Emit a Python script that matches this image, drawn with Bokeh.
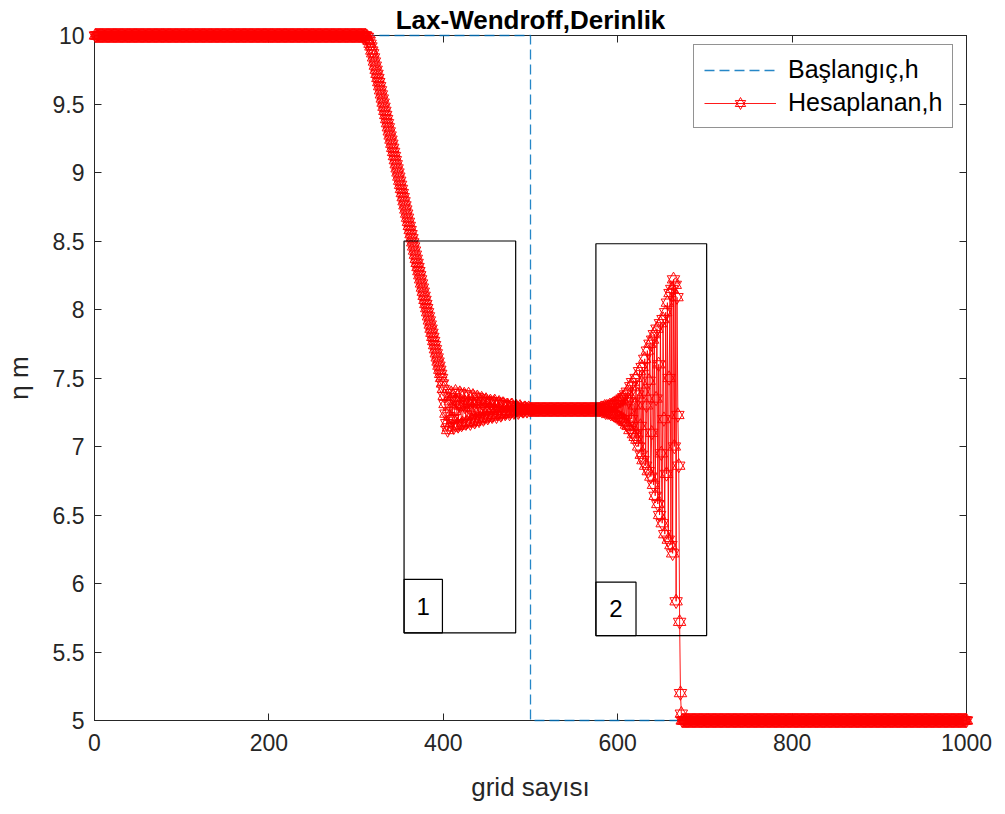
from bokeh.plotting import figure
from bokeh.models import Range1d, LinearAxis, FixedTicker, Legend, LegendItem
from bokeh.embed import file_html
from bokeh.resources import INLINE
from bokeh.core.properties import value

# ---------------- data ----------------
title_text = "Lax-Wendroff,Derinlik"
x_ticks = [0, 200, 400, 600, 800, 1000]
y_ticks = [5, 5.5, 6, 6.5, 7, 7.5, 8, 8.5, 9, 9.5, 10]
y_tick_labels = ["5", "5.5", "6", "6.5", "7", "7.5", "8", "8.5", "9", "9.5", "10"]

# initial condition (Başlangıç)
init_x = [0, 500, 500, 1000]
init_h = [10, 10, 5, 5]

# computed depth (Hesaplanan), grid points 1..1000
n_grid = 1000
h_left_value = 10.0
h_left_count = 310
h_descent = [10.00, 9.99, 9.99, 9.97, 9.96, 9.94, 9.92, 9.89, 9.87,
             9.84, 9.81, 9.78, 9.75, 9.72, 9.69, 9.66, 9.63, 9.60, 9.57,
             9.54, 9.51, 9.48, 9.45, 9.42, 9.39, 9.36, 9.33, 9.30, 9.27,
             9.24, 9.21, 9.18, 9.15, 9.12, 9.09, 9.06, 9.03, 9.00, 8.97,
             8.94, 8.91, 8.88, 8.85, 8.82, 8.79, 8.76, 8.73, 8.70, 8.67,
             8.64, 8.61, 8.58, 8.55, 8.52, 8.49, 8.46, 8.43, 8.40, 8.37,
             8.34, 8.31, 8.28, 8.25, 8.22, 8.19, 8.16, 8.13, 8.10, 8.07,
             8.04, 8.01, 7.98, 7.95, 7.92, 7.89, 7.86, 7.83, 7.80, 7.77,
             7.74, 7.71, 7.68, 7.65, 7.62, 7.59, 7.56, 7.53, 7.50, 7.46,
             7.42, 7.37, 7.31, 7.24, 7.17, 7.12]
h_tail = [7.14, 7.22, 7.33, 7.39, 7.36, 7.20, 7.14, 7.26, 7.40, 7.33, 7.16, 7.15, 7.30, 7.39, 7.30,
          7.16, 7.17, 7.31, 7.38, 7.29, 7.17, 7.18, 7.32, 7.38, 7.28,
          7.17, 7.19, 7.33, 7.37, 7.27, 7.18, 7.20, 7.33, 7.36, 7.26,
          7.19, 7.21, 7.33, 7.35, 7.26, 7.20, 7.22, 7.33, 7.34, 7.26,
          7.21, 7.23, 7.32, 7.33, 7.26, 7.22, 7.23, 7.32, 7.33, 7.26,
          7.22, 7.24, 7.31, 7.32, 7.26, 7.23, 7.24, 7.31, 7.31, 7.26,
          7.24, 7.25, 7.30, 7.30, 7.26, 7.24, 7.25, 7.30, 7.30, 7.27,
          7.25, 7.26, 7.29, 7.29, 7.27, 7.25, 7.26, 7.29, 7.28, 7.27,
          7.26, 7.26, 7.28, 7.28, 7.27, 7.26, 7.27, 7.28, 7.27, 7.27]
h_middle_value = 7.27
h_middle_count = 80
h_shock = [7.28, 7.26, 7.28, 7.26, 7.29, 7.25, 7.29, 7.25, 7.29, 7.25,
           7.30, 7.24, 7.30, 7.24, 7.31, 7.23, 7.31, 7.23, 7.32, 7.22,
           7.33, 7.21, 7.34, 7.20, 7.35, 7.19, 7.36, 7.18, 7.38, 7.16,
           7.40, 7.15, 7.33, 7.12, 7.44, 7.20, 7.47, 7.09, 7.30, 7.07,
           7.50, 7.05, 7.38, 7.00, 7.55, 7.15, 6.94, 7.58, 6.90, 7.40,
           7.64, 6.86, 7.30, 7.70, 6.82, 7.48, 7.75, 6.78, 7.10, 7.78,
           6.72, 7.82, 6.64, 7.35, 7.86, 6.58, 7.60, 6.50, 7.90, 6.95,
           6.44, 7.93, 7.20, 6.36, 7.98, 6.80, 8.05, 6.32, 7.50, 8.12,
           6.28, 8.15, 6.22, 8.22, 7.00, 8.18, 5.87, 8.09, 7.23, 6.86,
           5.72, 5.20, 5.05]
h_right_value = 5.0

# annotation boxes
box_left = [355, 575]
box_right = [483, 702]
box_bottom = [5.64, 5.62]
box_top = [8.50, 8.48]
label_left = [355, 575]
label_right = [399, 621]
label_bottom = [5.64, 5.62]
label_top = [6.03, 6.01]
label_text = ["1", "2"]

# ---------------- assemble series ----------------
h_so_far = ([h_left_value] * h_left_count + h_descent + h_tail
            + [h_middle_value] * h_middle_count + h_shock)
h_calc = h_so_far + [h_right_value] * (n_grid - len(h_so_far))
grid = list(range(1, len(h_calc) + 1))

TXT = "#262626"
FONT = "Liberation Sans"

p = figure(frame_width=872, frame_height=685,
           x_range=Range1d(0, 1000), y_range=Range1d(5, 10),
           output_backend="svg", toolbar_location=None, title=title_text,
           min_border_left=93, min_border_top=35, min_border_right=32, min_border_bottom=88)
p.background_fill_color = "white"
p.border_fill_color = "white"
p.outline_line_color = TXT
p.xgrid.visible = False
p.ygrid.visible = False

p.title.text_font = FONT
p.title.text_font_size = "26px"
p.title.text_font_style = "bold"
p.title.text_color = "black"
p.title.align = "center"
p.title.standoff = 2

for ax, ticks in [(p.xaxis[0], x_ticks), (p.yaxis[0], y_ticks)]:
    ax.ticker = FixedTicker(ticks=ticks)
    ax.major_tick_in = 7
    ax.major_tick_out = 0
    ax.minor_tick_line_color = None
    ax.axis_line_color = TXT
    ax.major_tick_line_color = TXT
    ax.major_label_text_font = FONT
    ax.major_label_text_font_size = "23px"
    ax.major_label_text_color = TXT
    ax.axis_label_text_font = FONT
    ax.axis_label_text_font_size = "26px"
    ax.axis_label_text_font_style = "normal"
    ax.axis_label_text_color = TXT

p.yaxis[0].major_label_overrides = {t: l for t, l in zip(y_ticks, y_tick_labels)}
p.xaxis[0].axis_label = "grid sayısı"
p.yaxis[0].axis_label = "η m"
p.xaxis[0].major_label_standoff = 13
p.yaxis[0].major_label_standoff = 10
p.xaxis[0].axis_label_standoff = 18
p.yaxis[0].axis_label_standoff = 16

top_ax = LinearAxis(ticker=FixedTicker(ticks=x_ticks), major_label_text_font_size="0px",
                    major_tick_in=7, major_tick_out=0, minor_tick_line_color=None,
                    major_label_standoff=0, axis_line_color=TXT, major_tick_line_color=TXT)
right_ax = LinearAxis(ticker=FixedTicker(ticks=y_ticks), major_label_text_font_size="0px",
                      major_tick_in=7, major_tick_out=0, minor_tick_line_color=None,
                      major_label_standoff=0, axis_line_color=TXT, major_tick_line_color=TXT)
p.add_layout(top_ax, "above")
p.add_layout(right_ax, "right")

# initial condition
r_init = p.line(init_x, init_h, line_color="#0072BD", line_width=1.3, line_dash="10 5",
                line_alpha=0.85, level="overlay")

# computed
r_line = p.line(grid, h_calc, line_color="red", line_width=0.9, level="overlay")
r_up = p.scatter(grid, h_calc, marker="triangle", size=12.5, fill_color=None,
                 line_color="red", line_width=0.95, level="overlay")
r_dn = p.scatter(grid, h_calc, marker="inverted_triangle", size=12.5, fill_color=None,
                 line_color="red", line_width=0.95, level="overlay")

# boxes
p.quad(left=box_left, right=box_right, bottom=box_bottom, top=box_top,
       fill_color=None, line_color="black", line_width=1.2, level="overlay")
p.quad(left=label_left, right=label_right, bottom=label_bottom, top=label_top,
       fill_color=None, line_color="black", line_width=1.2, level="overlay")
p.text(x=[(a + b) / 2 for a, b in zip(label_left, label_right)],
       y=[(a + b) / 2 for a, b in zip(label_bottom, label_top)],
       text=label_text, text_align="center", text_baseline="middle",
       text_font=value(FONT), text_font_size="24px", text_color="black")

legend = Legend(items=[LegendItem(label="Başlangıç,h", renderers=[r_init]),
                       LegendItem(label="Hesaplanan,h", renderers=[r_line, r_up, r_dn])],
                location=(599, 592))
legend.margin = 0
legend.padding = 10
legend.spacing = 4
legend.glyph_width = 72
legend.glyph_height = 26
legend.label_standoff = 12
legend.label_height = 26
legend.label_text_font = FONT
legend.label_text_font_size = "25px"
legend.label_text_color = "black"
legend.border_line_color = TXT
legend.border_line_width = 1
legend.background_fill_color = "white"
legend.background_fill_alpha = 1
p.add_layout(legend)

open("out.html", "w").write(file_html(p, INLINE))
